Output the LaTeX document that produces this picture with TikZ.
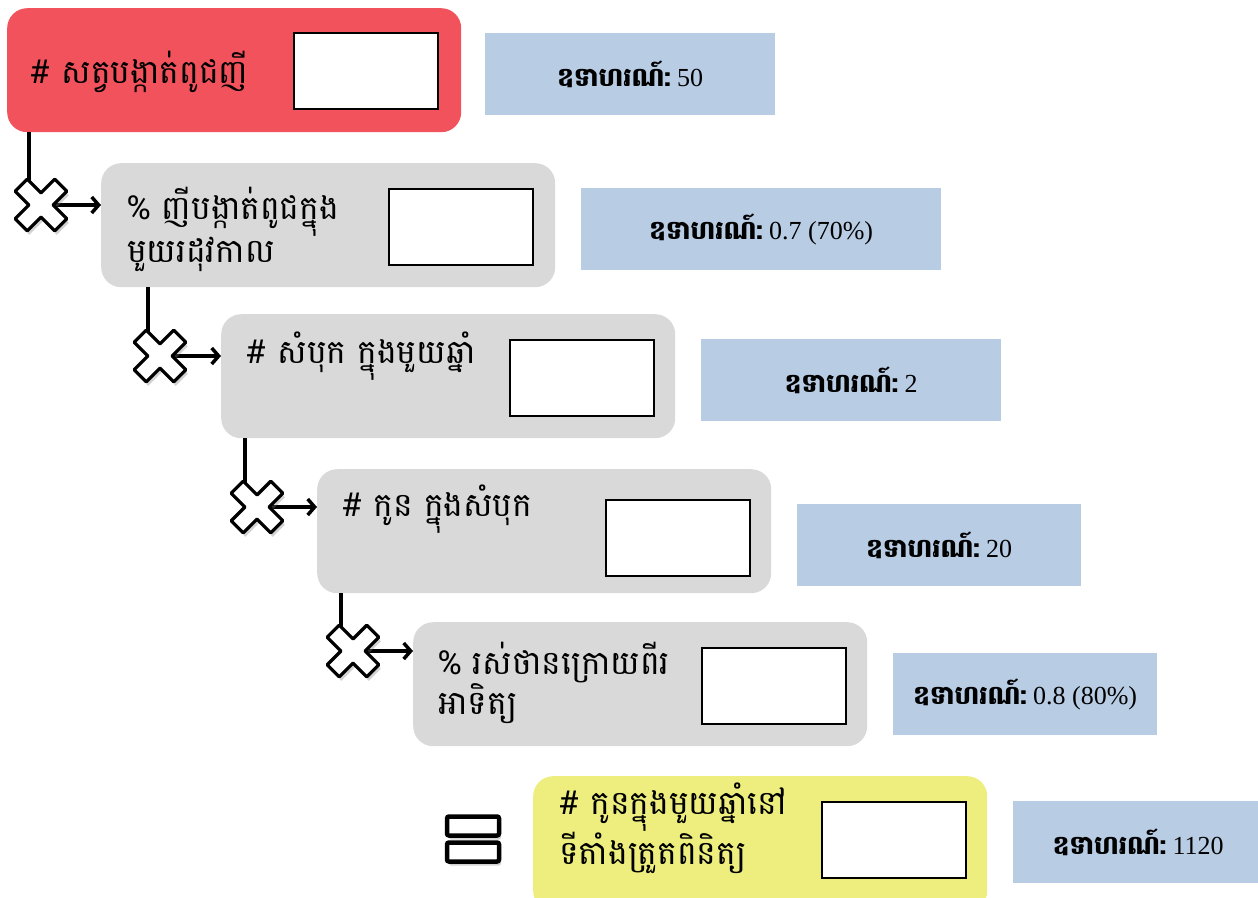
\documentclass[tikz,border=0pt]{standalone}
\usepackage{fontspec}
\setmainfont{Liberation Serif}
\newfontfamily\kh[Script=Khmer]{Battambang}
\usetikzlibrary{arrows.meta,shadows}
\definecolor{redfill}{HTML}{F2525C}
\definecolor{grayfill}{HTML}{D9D9D9}
\definecolor{yelfill}{HTML}{EDEE7E}
\definecolor{bluefill}{HTML}{B8CCE4}
\tikzset{
  stage/.style={rounded corners=20pt, minimum width=454pt, minimum height=124pt,
    inner sep=0pt, draw=none, anchor=north west},
  slot/.style={draw=black, line width=1.6pt, fill=white, minimum width=144pt,
    minimum height=76pt, inner sep=0pt, anchor=north west},
  exbox/.style={fill=bluefill, minimum height=82pt, inner sep=0pt, anchor=north west,
    font=\fontsize{26}{30}\selectfont},
  ktext/.style={anchor=west, align=left, inner sep=0pt,
    font=\kh\fontsize{33}{37}\selectfont},
  conn/.style={line width=3.5pt},
  arr/.style={line width=3.5pt, -{Straight Barb[length=7pt,width=16pt,line width=3.5pt]}},
  xnode/.style={circle, minimum size=20pt, inner sep=0pt},
  shd/.style={drop shadow={opacity=0.35, shadow xshift=2pt, shadow yshift=-4pt}},
  xcross/.pic={
    \draw[line width=3.2pt, line join=round, fill=white, rotate=45, shd]
      (-8.5,-28) -- (8.5,-28) -- (8.5,-8.5) -- (28,-8.5) -- (28,8.5) -- (8.5,8.5)
      -- (8.5,28) -- (-8.5,28) -- (-8.5,8.5) -- (-28,8.5) -- (-28,-8.5)
      -- (-8.5,-8.5) -- cycle;
  },
  eqbar/.style={draw=black, line width=4.5pt, fill=white, rounded corners=2pt,
    minimum width=52pt, minimum height=19pt, inner sep=0pt, shd}
}
\newcommand{\exlabel}{{\kh\bfseries\fontsize{26}{28}\selectfont ឧទាហរណ៍:}}
\begin{document}
\begin{tikzpicture}[x=1pt, y=-1pt]
\useasboundingbox (0,0) rectangle (1258,897);
\clip (0,0) rectangle (1258,897);

% stage boxes
\node[stage, fill=redfill]  (b1) at (7,8) {};
\node[stage, fill=grayfill] (b2) at (101,163) {};
\node[stage, fill=grayfill] (b3) at (221,314) {};
\node[stage, fill=grayfill] (b4) at (317,469) {};
\node[stage, fill=grayfill] (b5) at (413,622) {};
\node[stage, fill=yelfill, minimum height=135pt] (b6) at (533,776) {};

% empty slots
\node[slot] (s1) at (293,32) {};
\node[slot] (s2) at (388,188) {};
\node[slot] (s3) at (509,339) {};
\node[slot] (s4) at (605,499) {};
\node[slot] (s5) at (701,647) {};
\node[slot] (s6) at (821,801) {};

% texts
\node[ktext] (t1) at (30,72) {\# សត្វបង្កាត់ពូជញី};
\node[ktext] (t2) at (127,229) {\% ញីបង្កាត់ពូជក្នុង\\មួយរដុវកាល};
\node[ktext] (t3) at (246,356) {\# សំបុក ក្នុងមួយឆ្នាំ};
\node[ktext] (t4) at (342,509) {\# កូន ក្នុងសំបុក};
\node[ktext] (t5) at (438,683) {\% រស់ថានក្រោយពីរ\\អាទិត្យ};
\node[ktext] (t6) at (559,828) {\# កូនក្នុងមួយឆ្នាំនៅ\\ទីតាំងត្រួតពិនិត្យ};

% example boxes
\node[exbox, minimum width=290pt] (e1) at (485,33)  {\exlabel\ 50};
\node[exbox, minimum width=360pt] (e2) at (581,188) {\exlabel\ 0.7 (70\%)};
\node[exbox, minimum width=300pt] (e3) at (701,339) {\exlabel\ 2};
\node[exbox, minimum width=284pt] (e4) at (797,504) {\exlabel\ 20};
\node[exbox, minimum width=264pt] (e5) at (893,653) {\exlabel\ 0.8 (80\%)};
\node[exbox, minimum width=250pt] (e6) at (1013,801) {\exlabel\ 1120};

% cross positions
\node[xnode] (c1) at (41,205) {};
\node[xnode] (c2) at (160,356) {};
\node[xnode] (c3) at (257,507) {};
\node[xnode] (c4) at (353,651) {};
\coordinate (l1) at (29,132);
\coordinate (l2) at (148,287);
\coordinate (l3) at (245,438);
\coordinate (l4) at (341,593);

% connectors
\draw[conn] (l1) -- ([yshift=12pt]l1 |- c1);
\draw[conn] (l2) -- ([yshift=12pt]l2 |- c2);
\draw[conn] (l3) -- ([yshift=12pt]l3 |- c3);
\draw[conn] (l4) -- ([yshift=12pt]l4 |- c4);
\draw[arr] (c1.east) -- (c1.east -| b2.west);
\draw[arr] (c2.east) -- (c2.east -| b3.west);
\draw[arr] (c3.east) -- (c3.east -| b4.west);
\draw[arr] (c4.east) -- (c4.east -| b5.west);

% crosses
\pic at (c1) {xcross};
\pic at (c2) {xcross};
\pic at (c3) {xcross};
\pic at (c4) {xcross};

% equals
\node[eqbar] (q1) at (473,826) {};
\node[eqbar] (q2) at (473,852) {};
\end{tikzpicture}
\end{document}
